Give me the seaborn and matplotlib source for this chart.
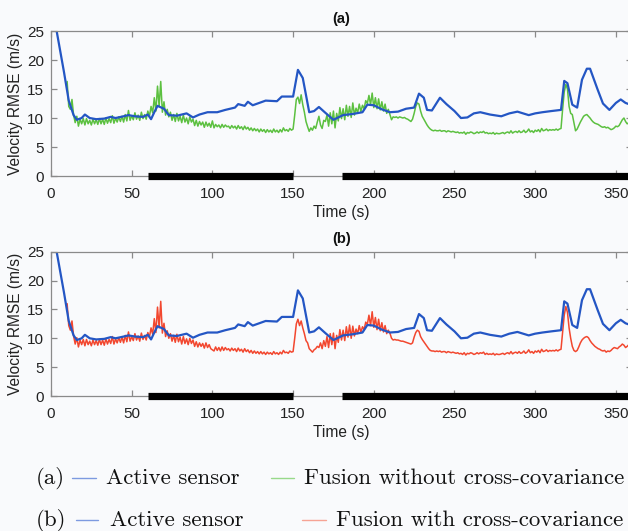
import numpy as np
import pandas as pd
import matplotlib
matplotlib.use("Agg")
import matplotlib.pyplot as plt
import seaborn as sns

# ---------------- data ----------------
blue_t = [0, 3.5, 8, 11, 14, 16, 19, 21, 24, 28, 33, 37, 40, 45, 48, 52, 57, 60, 62, 64, 66, 70, 73,
          78, 84, 88, 92, 97, 103, 108, 114, 116, 120, 122, 125, 130, 133, 140, 143, 150, 153, 156,
          160, 163, 166, 170, 175, 181, 187, 193, 196, 200, 205, 210, 215, 220, 225, 228, 231, 233,
          236, 241, 245, 250, 254, 258, 262, 266, 272, 279, 284, 289, 296, 300, 304.5, 310, 316,
          318, 320, 323, 326, 329, 332, 334, 338.7, 342, 346, 350, 353, 356, 360]
blue_v = [30, 25, 18, 13, 10.5, 9.7, 10.0, 10.6, 10.0, 9.8, 9.9, 10.2, 10.0, 10.3, 10.5, 10.3, 10.2,
          10.6, 9.8, 11.0, 12.1, 11.6, 10.5, 10.4, 10.8, 10.1, 10.6, 11.0, 11.0, 11.4, 11.8, 12.4,
          12.1, 12.8, 12.2, 12.7, 13.0, 12.9, 13.7, 13.7, 18.3, 16.9, 11.0, 11.2, 11.9, 10.9, 9.7,
          10.5, 10.7, 11.0, 12.3, 12.2, 11.5, 11.0, 11.1, 11.6, 11.8, 14.2, 13.5, 11.4, 11.3, 13.5,
          12.4, 11.2, 10.0, 10.1, 10.8, 11.0, 10.6, 10.3, 10.8, 11.1, 10.5, 10.8, 11.0, 11.2, 11.4,
          16.4, 16.0, 12.3, 11.8, 16.6, 18.5, 18.5, 14.9, 12.5, 11.4, 12.6, 13.2, 12.6, 12.2]

fusion_t = list(range(10, 359))
green_v = [16.3, 12.0, 11.5, 13.2, 10.5,
           9.2, 10.3, 8.6, 9.8, 9.0, 9.9,
           8.8, 9.9, 9.0, 9.6, 8.8, 9.8, 9.0, 9.7, 8.9, 9.9,
           9.0, 9.8, 8.9, 10.0, 9.1, 9.9, 9.2, 10.4, 9.1, 10.0,
           9.3, 10.2, 9.4, 10.3, 9.3, 10.6, 9.5, 11.3, 9.6, 10.4,
           9.7, 10.9, 9.8, 10.5, 9.6, 11.0, 9.9, 10.6, 9.8, 11.2,
           10.3, 12.0, 10.9, 13.5, 11.2, 15.5, 12.0, 16.3, 11.0, 12.8,
           10.5, 11.5, 10.2, 11.0, 9.6, 10.6, 9.4, 10.8, 9.5, 10.3,
           9.2, 10.5, 9.3, 10.0, 9.0, 10.2, 9.3, 9.8, 8.7, 9.6,
           8.6, 9.4, 8.8, 9.3, 8.4, 9.3, 8.6, 9.1, 8.4, 9.5,
           8.3, 8.9, 8.5, 8.8, 8.3, 8.9, 8.4, 8.8, 8.5, 8.6,
           8.2, 8.7, 8.3, 8.6, 8.1, 8.7, 8.2, 8.5, 8.0, 8.6,
           8.1, 8.4, 7.9, 8.3, 7.8, 8.2, 7.8, 8.1, 7.6, 8.1,
           7.7, 8.0, 7.5, 8.0, 7.6, 7.9, 7.5, 8.1, 7.6, 7.9,
           7.5, 8.0, 7.6, 8.3, 7.8, 8.0, 7.7, 8.2, 7.9, 8.1,
           10.5, 13.2, 13.6, 12.5, 14.0, 12.3, 11.0, 9.4, 8.5, 7.7,
           8.3, 7.9, 8.6, 8.2, 9.3, 10.3, 8.8, 8.2, 9.6, 9.4,
           10.5, 8.6, 10.9, 9.0, 11.2, 8.3, 10.8, 9.5, 11.8, 9.9,
           11.6, 9.7, 12.2, 10.3, 12.0, 10.1, 12.6, 10.5, 11.7, 10.9,
           12.4, 11.1, 12.2, 11.6, 13.0, 12.5, 13.9, 12.3, 14.3, 11.8,
           13.5, 11.6, 13.3, 11.4, 12.8, 11.2, 12.4, 10.8, 11.5, 10.6,
           9.7, 10.2, 10.1, 10.2, 10.0, 10.2, 10.1, 10.0, 10.1, 9.9,
           9.8, 9.6, 9.4, 9.8, 10.8, 12.0, 12.6, 12.4, 11.2, 10.3,
           9.8, 9.3, 8.8, 8.4, 8.1, 7.9, 7.8, 7.9, 7.8, 7.8,
           7.9, 7.7, 7.8, 7.8, 7.6, 7.8, 7.7, 7.6, 7.7, 7.6,
           7.5, 7.6, 7.4, 7.5, 7.4, 7.6, 7.2, 7.5, 7.4, 7.6,
           7.5, 7.3, 7.4, 7.6, 7.4, 7.6, 7.5, 7.7, 7.4, 7.5,
           7.3, 7.4, 7.3, 7.5, 7.2, 7.4, 7.3, 7.3, 7.4, 7.5,
           7.3, 7.5, 7.6, 7.4, 7.8, 7.4, 7.6, 7.7, 7.5, 7.8,
           7.5, 7.6, 7.9, 7.5, 7.7, 8.1, 7.6, 7.8, 7.5, 7.9,
           7.7, 8.0, 7.6, 8.2, 7.8, 7.9, 8.1, 7.8, 8.0, 7.9,
           8.0, 7.9, 8.1, 7.9, 8.1, 8.2, 11.5, 14.5, 15.8, 15.0,
           12.0, 10.8, 10.6, 9.2, 7.8, 8.1, 8.7, 9.3, 9.8, 10.3,
           10.5, 10.6, 10.3, 10.0, 9.6, 9.3, 9.1, 9.0, 8.9, 8.7,
           8.5, 8.4, 8.5, 8.3, 8.4, 8.2, 8.0, 8.1, 8.3, 8.6,
           8.5, 8.7, 9.2, 9.7, 10.0, 9.4, 9.0, 9.2]
red_v = [16.0, 12.2, 11.4, 13.0, 10.4,
         9.0, 10.1, 8.5, 9.7, 8.9, 9.8,
         8.7, 9.8, 8.9, 9.5, 8.7, 9.7, 8.9, 9.6, 8.8, 9.8,
         8.9, 9.7, 8.8, 9.9, 9.0, 9.8, 9.1, 10.3, 9.0, 9.9,
         9.2, 10.1, 9.3, 10.2, 9.2, 10.5, 9.4, 11.1, 9.5, 10.3,
         9.6, 10.8, 9.7, 10.4, 9.5, 10.9, 9.8, 10.5, 9.7, 11.0,
         10.2, 11.8, 10.7, 13.4, 11.0, 15.4, 11.8, 16.4, 10.9, 12.6,
         10.3, 11.3, 10.0, 10.8, 9.5, 10.5, 9.3, 10.7, 9.4, 10.2,
         9.0, 10.3, 9.1, 9.9, 8.9, 10.0, 9.1, 9.7, 8.6, 9.4,
         8.5, 9.2, 8.6, 9.1, 8.3, 9.2, 8.4, 8.9, 8.2, 8.0,
         7.8, 8.5, 7.9, 8.4, 7.8, 8.5, 7.9, 8.4, 8.0, 8.2,
         7.8, 8.3, 7.9, 8.2, 7.7, 8.3, 7.8, 8.1, 7.6, 8.2,
         7.7, 8.0, 7.5, 7.9, 7.4, 7.8, 7.4, 7.7, 7.3, 7.7,
         7.3, 7.6, 7.2, 7.6, 7.3, 7.5, 7.2, 7.7, 7.3, 7.5,
         7.2, 7.6, 7.3, 7.9, 7.5, 7.6, 7.4, 7.8, 7.6, 7.7,
         10.0, 12.5, 13.3, 12.2, 13.0, 11.8, 10.8, 9.6, 9.2, 8.2,
         7.9, 7.6, 8.0, 8.2, 8.6, 8.4, 9.2, 8.2, 9.6, 8.6,
         10.3, 8.4, 10.8, 8.9, 10.9, 8.2, 10.5, 9.3, 11.5, 9.7,
         11.4, 9.6, 12.0, 10.2, 12.3, 10.0, 12.1, 10.4, 11.6, 10.8,
         12.2, 11.0, 12.0, 11.5, 12.8, 12.4, 14.0, 12.2, 14.6, 11.9,
         13.6, 11.5, 13.3, 11.3, 12.7, 11.1, 12.2, 10.8, 11.4, 10.9,
         10.0, 9.7, 9.8, 9.7, 9.7, 9.6, 9.5, 9.5, 9.4, 9.3,
         9.2, 9.1, 9.0, 9.2, 10.2, 11.0, 11.4, 11.2, 10.3, 9.8,
         9.4, 9.0, 8.6, 8.2, 7.9, 7.8, 7.8, 7.7, 7.8, 7.7,
         7.8, 7.6, 7.7, 7.7, 7.5, 7.7, 7.6, 7.5, 7.6, 7.5,
         7.4, 7.5, 7.3, 7.4, 7.2, 7.5, 7.1, 7.4, 7.3, 7.5,
         7.4, 7.2, 7.3, 7.5, 7.3, 7.5, 7.4, 7.6, 7.2, 7.4,
         7.2, 7.3, 7.2, 7.4, 7.1, 7.3, 7.2, 7.2, 7.3, 7.4,
         7.2, 7.4, 7.5, 7.3, 7.7, 7.3, 7.5, 7.6, 7.4, 7.7,
         7.4, 7.5, 7.8, 7.4, 7.6, 8.0, 7.5, 7.7, 7.4, 7.8,
         7.6, 7.9, 7.5, 8.1, 7.7, 7.8, 8.0, 7.7, 7.9, 7.8,
         7.9, 7.8, 8.0, 7.8, 8.0, 8.1, 11.0, 14.0, 15.5, 14.5,
         11.8, 10.0, 8.6, 7.9, 7.7, 7.9, 8.5, 9.2, 9.7, 10.0,
         10.2, 10.3, 10.1, 9.6, 9.2, 8.9, 8.6, 8.4, 8.2, 8.1,
         7.9, 7.8, 7.9, 7.6, 7.8, 7.7, 7.9, 8.2, 8.4, 8.3,
         8.2, 8.5, 8.7, 9.0, 8.8, 8.4, 8.6, 8.9]

gap_start = [60, 180]
gap_end = [150, 360]

x_ticks = [0, 50, 100, 150, 200, 250, 300, 350]
y_ticks = [0, 5, 10, 15, 20, 25]

# ---------------- style ----------------
BG = "#f9fafc"
BLUE = "#2456c4"
GREEN = "#5cc040"
RED = "#f2472f"

sns.set_theme(style="ticks")
plt.rcParams["font.family"] = ["Liberation Sans", "DejaVu Sans"]
plt.rcParams["axes.edgecolor"] = "#8a8a8a"
plt.rcParams["xtick.color"] = "#8a8a8a"
plt.rcParams["ytick.color"] = "#8a8a8a"
plt.rcParams["xtick.labelcolor"] = "#222222"
plt.rcParams["ytick.labelcolor"] = "#222222"

fig = plt.figure(figsize=(6.28, 5.31), dpi=100, facecolor=BG)

blue_df = pd.DataFrame({"t": blue_t, "v": blue_v})
green_df = pd.DataFrame({"t": fusion_t, "v": green_v})
red_df = pd.DataFrame({"t": fusion_t, "v": red_v})

panels = [
    ("(a)", [0.0812, 0.6685, 0.9252, 0.2731], green_df, GREEN),
    ("(b)", [0.0812, 0.2542, 0.9252, 0.2718], red_df, RED),
]

for title, rect, fdf, fcol in panels:
    ax = fig.add_axes(rect)
    ax.set_facecolor(BG)
    sns.lineplot(data=fdf, x="t", y="v", ax=ax, color=fcol, linewidth=1.1,
                 estimator=None, sort=False)
    sns.lineplot(data=blue_df, x="t", y="v", ax=ax, color=BLUE, linewidth=1.6,
                 estimator=None, sort=False)
    ax.hlines([0] * len(gap_start), gap_start, gap_end, colors="black",
              linewidth=5.2, clip_on=False, zorder=5)
    ax.set_xlim(0, 360)
    ax.set_ylim(0, 25)
    ax.set_xticks(x_ticks)
    ax.set_yticks(y_ticks)
    ax.tick_params(axis="both", direction="in", length=4, width=0.9, top=True, right=True,
                   labelsize=11)
    ax.tick_params(axis="x", pad=8)
    ax.tick_params(axis="y", pad=5)
    for s in ax.spines.values():
        s.set_linewidth(0.9)
        s.set_visible(True)
    ax.set_xlabel("Time (s)", fontsize=11.2, labelpad=3, color="#222222")
    ax.set_ylabel("Velocity RMSE (m/s)", fontsize=11.2, labelpad=3, color="#222222")
    ax.set_title(title, fontsize=10.5, fontweight="bold", pad=6, color="#111111")

# ---------------- legend (text rows) ----------------
cm = ["cmr10", "DejaVu Serif"]
fs = 16.5
rows = [
    (0.0998, "(a)", 0.1146, 0.1529, 0.1688, "#98d98a", 0.4315, 0.4682, 0.4841,
     "Fusion without cross-covariance"),
    (0.0207, "(b)", 0.1210, 0.1560, 0.1752, "#f6a394", 0.4810, 0.5190, 0.5350,
     "Fusion with cross-covariance"),
]
for y, lab, bx0, bx1, btx, lcol, fx0, fx1, ftx, ftxt in rows:
    fig.text(0.0573, y, lab, fontfamily=cm, fontsize=fs, va="center", ha="left", color="#111111")
    fig.add_artist(plt.Line2D([bx0, bx1], [y, y], color="#7d9ae0", linewidth=1.0,
                              transform=fig.transFigure))
    fig.text(btx, y, "Active sensor", fontfamily=cm, fontsize=fs, va="center", ha="left",
             color="#111111")
    fig.add_artist(plt.Line2D([fx0, fx1], [y, y], color=lcol, linewidth=1.0,
                              transform=fig.transFigure))
    fig.text(ftx, y, ftxt, fontfamily=cm, fontsize=fs, va="center", ha="left", color="#111111")

fig.savefig("out.png", dpi=100, facecolor=BG)
